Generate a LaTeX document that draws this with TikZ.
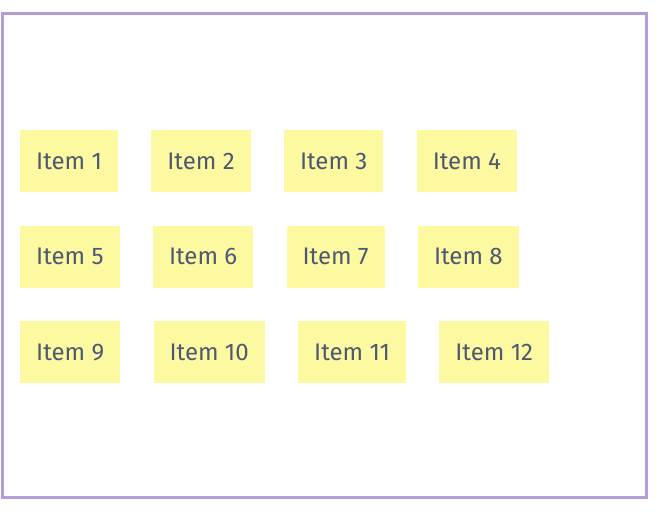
\documentclass[tikz,border=0pt]{standalone}
\usepackage{fontspec}
\setmainfont{Fira Sans}
\usetikzlibrary{positioning}
\definecolor{framepurple}{HTML}{B39DDB}
\definecolor{noteyellow}{HTML}{FCF9A0}
\definecolor{notetext}{HTML}{4F5873}
\tikzset{
  item/.style={fill=noteyellow, text=notetext, inner xsep=16pt,
    minimum height=62pt, font=\fontsize{24pt}{28pt}\selectfont},
}

\begin{document}
\begin{tikzpicture}[x=1pt, y=1pt, node distance=33pt]
    \useasboundingbox (0,0) rectangle (664,-521);
    \draw[framepurple, line width=3pt] (2,-14) rectangle (646,-497);
    % first row
    \node[item, anchor=north west] (i1) at (20,-130) {Item 1};
    \node[item, right=of i1] (i2) {Item 2};
    \node[item, right=of i2] (i3) {Item 3};
    \node[item, right=of i3] (i4) {Item 4};
    % second row
    \node[item, below=of i1.south west, anchor=north west] (i5) {Item 5};
    \node[item, right=of i5] (i6) {Item 6};
    \node[item, right=of i6] (i7) {Item 7};
    \node[item, right=of i7] (i8) {Item 8};
    % third row
    \node[item, below=of i5.south west, anchor=north west] (i9) {Item 9};
    \node[item, right=of i9] (i10) {Item 10};
    \node[item, right=of i10] (i11) {Item 11};
    \node[item, right=of i11] (i12) {Item 12};
\end{tikzpicture}
\end{document}
